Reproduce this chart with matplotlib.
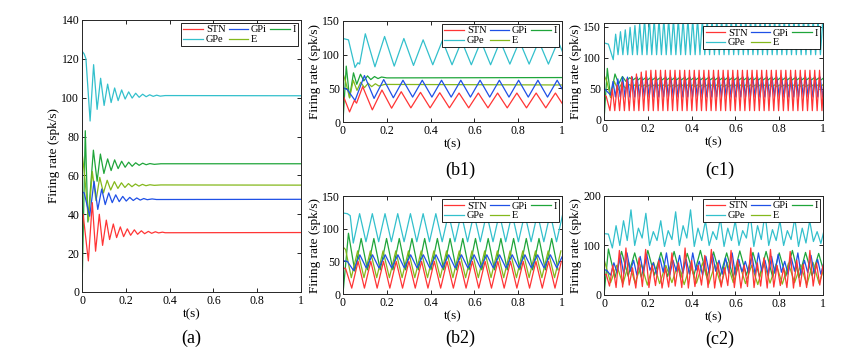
import matplotlib
matplotlib.use('Agg')
import matplotlib.pyplot as plt

plt.rcParams['font.family'] = ['Liberation Serif', 'DejaVu Serif']

# colours of the five populations
col = {'STN': '#ff3535', 'GPi': '#1f50e6', 'I': '#1fa53a', 'GPe': '#33c0cc', 'E': '#84b81c'}

# ---------------- (a) damped oscillation: extrema ----------------
a_stn_t = [0, 0.005, 0.029, 0.047, 0.062, 0.079, 0.094, 0.111, 0.126, 0.143, 0.158, 0.175, 0.19,
           0.207, 0.222, 0.239, 0.254, 0.271, 0.286, 0.303, 0.318, 0.335, 0.35, 0.367, 0.38, 1.0]
a_stn_v = [40, 40, 16, 46, 21, 40, 24, 37, 27, 35, 28, 33.5, 28.5, 32.5, 29.2, 32, 29.7, 31.5, 30,
           31.2, 30.2, 31, 30.4, 30.8, 30.5, 30.6]
a_gpe_t = [0, 0.01, 0.018, 0.037, 0.053, 0.069, 0.085, 0.101, 0.117, 0.133, 0.149, 0.165, 0.181,
           0.197, 0.213, 0.229, 0.245, 0.261, 0.277, 0.293, 0.309, 0.325, 0.341, 0.357, 0.38, 1.0]
a_gpe_v = [124, 122.5, 120, 88, 117, 94, 110, 96, 107, 97.5, 105, 98.5, 104, 99.3, 103, 99.8,
           102.3, 100.2, 101.8, 100.5, 101.5, 100.7, 101.3, 100.8, 101.1, 101]
a_i_t = [0, 0.015, 0.027, 0.052, 0.069, 0.084, 0.1, 0.117, 0.133, 0.149, 0.165, 0.181, 0.197,
         0.213, 0.229, 0.245, 0.261, 0.277, 0.293, 0.31, 0.33, 0.36, 1.0]
a_i_v = [0, 83, 36, 73, 57, 71, 61, 68.5, 62.5, 68, 63.5, 67.3, 64.2, 66.8, 64.7, 66.5, 65.2,
         66.3, 65.5, 66.1, 65.7, 66, 66]
a_e_t = [0, 0.012, 0.03, 0.047, 0.064, 0.081, 0.098, 0.115, 0.131, 0.148, 0.164, 0.18, 0.196,
         0.212, 0.228, 0.244, 0.26, 0.276, 0.292, 0.31, 0.33, 0.36, 1.0]
a_e_v = [72, 60, 37, 62, 47, 59, 51, 57.5, 52.5, 56.8, 53.3, 56.2, 53.8, 55.8, 54.2, 55.6, 54.5,
         55.4, 54.7, 55.2, 54.9, 55.1, 55]
a_gpi_t = [0, 0.01, 0.035, 0.055, 0.072, 0.09, 0.106, 0.122, 0.138, 0.154, 0.17, 0.186, 0.202,
           0.218, 0.234, 0.25, 0.266, 0.282, 0.298, 0.32, 0.34, 1.0]
a_gpi_v = [51.5, 51, 39, 57, 42.5, 53, 45, 51, 46, 50, 46.5, 49.2, 46.8, 48.7, 47.1, 48.4, 47.3,
           48.1, 47.5, 47.9, 47.6, 47.7]

# ---------------- (b1) ----------------
b1_half = 0.044
b1_stn_pre = ([0, 0.03, 0.052, 0.062], [40, 15, 32, 28])
b1_stn_t0 = 0.09
b1_stn_first = [52.5, 47.5, 45, 44, 43.5, 43, 43, 43, 43, 43, 43]      # peaks
b1_stn_second = [18, 20.5, 21, 21, 21, 21, 21, 21, 21, 21, 21]        # troughs
b1_gpe_pre = ([0, 0.025, 0.055, 0.068, 0.076], [124, 122, 81, 88, 86])
b1_gpe_t0 = 0.102
b1_gpe_first = [131, 127, 124, 122, 121, 120, 120, 120, 120, 120, 120]
b1_gpe_second = [82, 83, 84, 85, 85, 85, 85, 86, 86, 86, 86]
b1_gpi_pre = ([0, 0.02, 0.055], [51, 48, 32])
b1_gpi_t0 = 0.098
b1_gpi_first = [69, 63, 62, 62, 62, 62, 62, 62, 62, 62, 62]
b1_gpi_second = [35, 36, 37, 37, 37, 37, 37, 37, 37, 37, 37]
b1_i_t = [0, 0.015, 0.03, 0.048, 0.063, 0.08, 0.095, 0.112, 0.127, 0.144, 0.16, 0.176, 0.2, 1.0]
b1_i_v = [0, 83, 36, 73, 56, 71, 61, 68.5, 63, 67.5, 64.5, 66.8, 65.5, 66]
b1_e_t = [0, 0.012, 0.03, 0.047, 0.064, 0.081, 0.098, 0.115, 0.131, 0.148, 0.164, 0.19, 1.0]
b1_e_v = [72, 60, 36, 62, 47, 59, 51, 57.5, 52.5, 56.8, 53.5, 55.8, 55]

# ---------------- (b2) ----------------
b2_half = 0.029
b2_stn_pre = ([0, 0.012], [40, 39])
b2_stn_t0 = 0.04
b2_stn_first = [9] * 17                 # troughs
b2_stn_second = [50] * 17               # peaks
b2_gpe_pre = ([0, 0.02, 0.033], [124, 123, 120])
b2_gpe_t0 = 0.047
b2_gpe_first = [78] + [80] * 16
b2_gpe_second = [123] * 17
b2_gpi_pre = ([0, 0.02], [51, 50])
b2_gpi_t0 = 0.048
b2_gpi_first = [36] + [40] * 16
b2_gpi_second = [60] * 17
b2_i_pre = ([0], [0])
b2_i_t0 = 0.025
b2_i_first = [93] + [85] * 16
b2_i_second = [35] + [37] * 16
b2_e_pre = ([0, 0.012], [72, 68])
b2_e_t0 = 0.038
b2_e_first = [25] * 17
b2_e_second = [66] * 17

# ---------------- (c1) ----------------
c1_half = 0.011
c1_stn_pre = ([0, 0.01], [40, 38])
c1_stn_t0 = 0.027
c1_stn_first = [15] * 45
c1_stn_second = [50, 56, 61, 66, 70, 74, 77, 79] + [80] * 37
c1_gpe_pre = ([0, 0.02], [124, 122])
c1_gpe_t0 = 0.042
c1_gpe_first = [97] + [105] * 44
c1_gpe_second = [138, 142, 145, 149, 152, 155] + [162] * 39
c1_gpi_pre = ([0], [51])
c1_gpi_t0 = 0.03
c1_gpi_first = [40] + [37] * 44
c1_gpi_second = [62, 66] + [69] * 43
c1_i_pre = ([0, 0.015, 0.03, 0.05, 0.067, 0.084, 0.1, 0.117], [0, 83, 37, 74, 58, 70, 62, 68])
c1_i_t0 = 0.133
c1_i_first = [64.5] * 40
c1_i_second = [67.5] * 40
c1_e_pre = ([0, 0.013, 0.03, 0.047, 0.064, 0.081, 0.098, 0.115], [72, 62, 36, 62, 48, 59, 51, 57])
c1_e_t0 = 0.13
c1_e_first = [53.5] * 40
c1_e_second = [56.5] * 40

# ---------------- (c2) ----------------
c2_gpe_pre = ([0, 0.02], [124, 123])
c2_gpe_t0, c2_gpe_half = 0.038, 0.017
c2_gpe_first = [95, 100, 110, 100, 115, 100, 110, 98, 112, 100, 115, 98, 110, 100, 112, 98, 110,
                100, 115, 98, 112, 100, 110, 100, 112, 98, 105, 108, 104]
c2_gpe_second = [140, 150, 172, 135, 165, 128, 150, 130, 168, 140, 172, 135, 150, 128, 155, 135,
                 150, 130, 165, 140, 165, 132, 150, 130, 155, 135, 150, 128, 135]
c2_stn_pre = ([0, 0.01], [40, 42])
c2_stn_t0, c2_stn_half = 0.025, 0.015
c2_stn_first = [18, 15, 16, 20, 14, 17, 15, 19, 14, 16, 18, 15, 14, 17, 20, 15, 14, 16, 19, 15,
                14, 17, 15, 18, 14, 16, 19, 15, 14, 17, 15, 18, 20]
c2_stn_second = [60, 90, 95, 55, 75, 92, 60, 70, 55, 85, 65, 95, 70, 60, 80, 92, 65, 55, 90, 70,
                 60, 95, 65, 75, 92, 60, 55, 88, 70, 62, 90, 65, 60]
c2_gpi_pre = ([0, 0.012], [51, 50])
c2_gpi_t0, c2_gpi_half = 0.03, 0.015
c2_gpi_first = [40, 45, 42, 48, 40, 44, 50, 42, 46, 40, 48, 44, 42, 50, 40, 45, 48, 42, 44, 40,
                47, 45, 42, 48, 40, 44, 46, 42, 48, 40, 45, 43, 42]
c2_gpi_second = [65, 80, 85, 70, 78, 82, 65, 75, 85, 70, 80, 72, 85, 68, 78, 82, 70, 75, 85, 72,
                 68, 80, 85, 70, 78, 82, 68, 75, 85, 70, 80, 72, 68]
c2_i_pre = ([0], [0])
c2_i_t0, c2_i_half = 0.02, 0.03
c2_i_first = [93, 88, 85, 90, 86, 88, 84, 90, 87, 85, 89, 86, 88, 85, 90, 86, 84]
c2_i_second = [35, 38, 36, 40, 37, 35, 39, 36, 38, 35, 40, 37, 36, 38, 35, 39, 37]
c2_e_pre = ([0], [72])
c2_e_t0, c2_e_half = 0.03, 0.028
c2_e_first = [25, 22, 24, 20, 23, 25, 21, 24, 22, 20, 25, 23, 21, 24, 22, 25, 20, 23]
c2_e_second = [60, 65, 62, 66, 60, 64, 62, 65, 61, 66, 63, 60, 65, 62, 64, 61, 66, 62]


def osc(pre, t0, half, first, second):
    # join the transient points with the alternating extrema
    vals = []
    for p, q in zip(first, second):
        vals += [p, q]
    t = list(pre[0]) + [t0 + half * k for k in range(len(vals))]
    return t, list(pre[1]) + vals


def set_ax(ax, ylim, yticks):
    ax.set_xlim(0, 1)
    ax.set_ylim(*ylim)
    ax.set_xticks([0, 0.2, 0.4, 0.6, 0.8, 1])
    ax.set_xticklabels(['0', '0.2', '0.4', '0.6', '0.8', '1'])
    ax.set_yticks(yticks)
    ax.tick_params(direction='in', top=True, right=True, length=3, width=0.6,
                   labelsize=8.5, pad=2)
    for s in ax.spines.values():
        s.set_linewidth(0.7)
        s.set_color('#262626')
    ax.set_xlabel('t(s)', fontsize=9.5, labelpad=1)
    ax.set_ylabel('Firing rate (spk/s)', fontsize=9.5, labelpad=1)


def draw(ax, series):
    h = {}
    for name in ['GPe', 'I', 'E', 'GPi', 'STN']:
        t, v = series[name]
        h[name], = ax.plot(t, v, color=col[name], lw=0.9, label=name)
    leg = ax.legend([h['STN'], h['GPe'], h['GPi'], h['E'], h['I']],
                    ['STN', 'GPe', 'GPi', 'E', 'I'], ncol=3, loc='upper right',
                    fontsize=7.5, handlelength=1.9, handletextpad=0.25, columnspacing=0.3,
                    labelspacing=0.05, borderpad=0.2, borderaxespad=0.3,
                    fancybox=False, edgecolor='k', framealpha=1)
    leg.get_frame().set_linewidth(0.6)


fig = plt.figure(figsize=(8.65, 3.6), dpi=100)

ax_a = fig.add_axes([0.0948, 0.1889, 0.2532, 0.7556])
draw(ax_a, {'STN': (a_stn_t, a_stn_v), 'GPe': (a_gpe_t, a_gpe_v), 'GPi': (a_gpi_t, a_gpi_v),
            'I': (a_i_t, a_i_v), 'E': (a_e_t, a_e_v)})
set_ax(ax_a, (0, 140), range(0, 141, 20))

ax_b1 = fig.add_axes([0.3965, 0.6611, 0.2532, 0.2806])
draw(ax_b1, {'STN': osc(b1_stn_pre, b1_stn_t0, b1_half, b1_stn_first, b1_stn_second),
             'GPe': osc(b1_gpe_pre, b1_gpe_t0, b1_half, b1_gpe_first, b1_gpe_second),
             'GPi': osc(b1_gpi_pre, b1_gpi_t0, b1_half, b1_gpi_first, b1_gpi_second),
             'I': (b1_i_t, b1_i_v), 'E': (b1_e_t, b1_e_v)})
set_ax(ax_b1, (0, 150), [0, 50, 100, 150])

ax_c1 = fig.add_axes([0.6983, 0.6667, 0.2532, 0.2694])
draw(ax_c1, {'STN': osc(c1_stn_pre, c1_stn_t0, c1_half, c1_stn_first, c1_stn_second),
             'GPe': osc(c1_gpe_pre, c1_gpe_t0, c1_half, c1_gpe_first, c1_gpe_second),
             'GPi': osc(c1_gpi_pre, c1_gpi_t0, c1_half, c1_gpi_first, c1_gpi_second),
             'I': osc(c1_i_pre, c1_i_t0, c1_half, c1_i_first, c1_i_second),
             'E': osc(c1_e_pre, c1_e_t0, c1_half, c1_e_first, c1_e_second)})
set_ax(ax_c1, (0, 156), [0, 50, 100, 150])

ax_b2 = fig.add_axes([0.3965, 0.1833, 0.2532, 0.2722])
draw(ax_b2, {'STN': osc(b2_stn_pre, b2_stn_t0, b2_half, b2_stn_first, b2_stn_second),
             'GPe': osc(b2_gpe_pre, b2_gpe_t0, b2_half, b2_gpe_first, b2_gpe_second),
             'GPi': osc(b2_gpi_pre, b2_gpi_t0, b2_half, b2_gpi_first, b2_gpi_second),
             'I': osc(b2_i_pre, b2_i_t0, b2_half, b2_i_first, b2_i_second),
             'E': osc(b2_e_pre, b2_e_t0, b2_half, b2_e_first, b2_e_second)})
set_ax(ax_b2, (0, 150), [0, 50, 100, 150])

ax_c2 = fig.add_axes([0.6983, 0.1806, 0.2532, 0.275])
draw(ax_c2, {'STN': osc(c2_stn_pre, c2_stn_t0, c2_stn_half, c2_stn_first, c2_stn_second),
             'GPe': osc(c2_gpe_pre, c2_gpe_t0, c2_gpe_half, c2_gpe_first, c2_gpe_second),
             'GPi': osc(c2_gpi_pre, c2_gpi_t0, c2_gpi_half, c2_gpi_first, c2_gpi_second),
             'I': osc(c2_i_pre, c2_i_t0, c2_i_half, c2_i_first, c2_i_second),
             'E': osc(c2_e_pre, c2_e_t0, c2_e_half, c2_e_first, c2_e_second)})
set_ax(ax_c2, (0, 200), [0, 100, 200])

# panel captions
for x, y, s in [(191, 338, '(a)'), (460, 170, '(b1)'), (720, 170, '(c1)'),
                (460, 338, '(b2)'), (720, 339, '(c2)')]:
    fig.text(x / 865, 1 - y / 360, s, fontsize=13, ha='center', va='center')

fig.savefig('out.png', dpi=100)
